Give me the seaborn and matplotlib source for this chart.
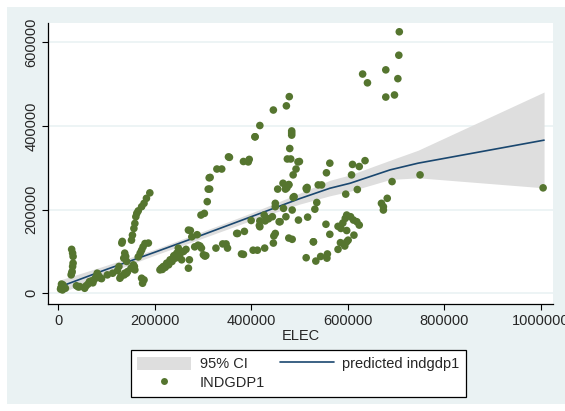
import numpy as np
import matplotlib
matplotlib.use('Agg')
import matplotlib.pyplot as plt
import seaborn as sns
from matplotlib.patches import Rectangle, Patch
from matplotlib.lines import Line2D

# scatter data (thousands)
elec_k = [
    5, 8, 10, 12, 15, 7, 9, 6,
    28, 30, 31, 31, 30, 29, 27, 28,
    38, 42, 45,
    55, 58, 62, 65, 70, 72, 75, 78, 80, 82, 85, 88, 90, 81,
    102, 113, 123, 126, 130, 137, 144, 151, 158,
    132, 133, 136, 138, 140, 142, 142, 156,
    152, 154, 157, 159, 161, 163, 166, 173, 178, 183, 190,
    166, 170, 173, 176, 180, 159, 138, 128, 173, 175, 178, 187,
    211, 216, 218, 225, 232, 239, 246, 249, 256, 222, 229, 236, 243, 252, 260, 214, 226, 240, 265,
    270, 272, 270, 274, 277, 283, 288, 294, 301, 290, 297,
    296, 303, 304, 306, 309, 311, 313, 314, 315,
    327, 329, 339, 341, 348, 351, 353, 355,
    370, 372, 380, 384, 384, 386, 394, 396, 400,
    404, 408, 413, 418, 417, 418, 428, 429, 444, 427, 436,
    408, 418, 446, 446, 447, 450, 450, 450, 455, 458,
    460, 467, 472, 472, 474, 478, 466, 471, 478, 473, 479, 480, 475, 482, 484, 484, 484,
    485, 487, 487, 489, 493, 497, 498, 500, 485, 478,
    514, 515, 516, 517, 514, 529, 529, 532, 536, 539, 546, 534, 544, 558,
    555, 556, 563, 563, 557,
    580, 585, 594, 598, 601, 580, 586, 590, 595, 598, 596, 598,
    606, 612, 619, 624, 613, 620, 608, 610, 624, 636, 631, 641,
    670, 674, 674, 682, 692, 679, 679, 697, 704, 706, 707,
    750, 1005,
]
indgdp_k = [
    10, 18, 20, 15, 12, 22, 8, 14,
    105, 96, 88, 72, 64, 52, 44, 48,
    18, 15, 16,
    12, 18, 22, 28, 30, 25, 33, 38, 42, 46, 40, 36, 35, 48,
    44, 48, 54, 64, 40, 44, 52, 60, 64,
    120, 124, 84, 96, 88, 76, 48, 68,
    127, 139, 155, 167, 183, 191, 197, 207, 215, 227, 240,
    87, 96, 103, 111, 119, 56, 48, 36, 36, 24, 32, 120,
    56, 57, 64, 72, 80, 87, 96, 108, 80, 62, 68, 76, 84, 92, 100, 60, 70, 90, 105,
    151, 80, 60, 150, 135, 111, 140, 113, 92, 115, 108,
    187, 191, 89, 90, 219, 249, 276, 249, 277,
    108, 297, 297, 118, 118, 108, 326, 325,
    143, 143, 94, 93, 315, 148, 314, 320, 174,
    103, 374, 103, 159, 162, 173, 108, 173, 183, 187, 178,
    374, 401, 438, 120, 137, 207, 215, 143, 249, 171,
    171, 203, 183, 256, 252, 259, 263, 249, 132, 448, 470, 346, 321, 321, 378, 383, 388,
    129, 229, 283, 231, 297, 314, 175, 315, 199, 260,
    85, 248, 253, 182, 251, 123, 123, 201, 217, 259, 259, 77, 88, 94,
    165, 288, 141, 311, 84,
    105, 121, 113, 123, 127, 160, 155, 168, 179, 187, 237, 150,
    183, 175, 171, 163, 139, 248, 283, 308, 303, 317, 524, 503,
    215, 207, 199, 227, 267, 534, 469, 474, 513, 569, 625,
    283, 252,
]

# fitted line and 95% band (thousands)
fit_x_k = [7, 100, 200, 300, 400, 500, 563, 605, 688, 746, 1007]
fit_y_k = [17, 57, 98, 140, 183, 226, 251, 263, 295, 311, 366]
ci_hi_k = [33, 67, 105, 148, 192, 239, 270, 283, 318, 342, 481]
ci_lo_k = [1, 47, 91, 132, 174, 213, 233, 244, 272, 276, 252]

x_ticks = [0, 200000, 400000, 600000, 800000, 1000000]
y_ticks = [0, 200000, 400000, 600000]

elec = np.array(elec_k) * 1000
indgdp = np.array(indgdp_k) * 1000
fit_x = np.array(fit_x_k) * 1000
fit_y = np.array(fit_y_k) * 1000
ci_hi = np.array(ci_hi_k) * 1000
ci_lo = np.array(ci_lo_k) * 1000

sns.set_style('white')
plt.rcParams['font.family'] = ['Liberation Sans', 'DejaVu Sans']

bg = '#EAF2F3'
green = '#55752F'
navy = '#1A476F'
band = '#DEDEDE'

fig = plt.figure(figsize=(5.65, 4.11), dpi=100, facecolor='white')
fig.patches.append(Rectangle((7 / 565, 1 - 404 / 411), 558 / 565, 397 / 411,
                             transform=fig.transFigure, facecolor=bg,
                             edgecolor='none', zorder=-10))
ax = fig.add_axes([48 / 565, 1 - 304 / 411, 505 / 565, 281 / 411])
ax.set_facecolor('white')

for yt in y_ticks:
    ax.axhline(yt, color=bg, lw=1.2, zorder=0)

ax.fill_between(fit_x, ci_lo, ci_hi, color=band, lw=0, zorder=1)
sns.lineplot(x=fit_x, y=fit_y, ax=ax, color=navy, lw=1.2, zorder=2)
sns.scatterplot(x=elec, y=indgdp, ax=ax, color=green, s=30,
                edgecolor='none', linewidth=0, zorder=3)

ax.set_xlim(-21000, 1025500)
ax.set_ylim(-25600, 646000)
ax.set_xticks(x_ticks)
ax.set_xticklabels([str(v) for v in x_ticks], fontsize=10.5)
ax.set_yticks(y_ticks)
ax.set_yticklabels([str(v) for v in y_ticks], fontsize=10.5, rotation=90, va='center')
ax.tick_params(axis='both', direction='out', length=4, width=0.8, color='black',
               left=True, bottom=True, pad=3)
ax.set_xlabel('ELEC', fontsize=10.5, labelpad=1)
ax.set_ylabel('')

for side in ['top', 'right']:
    ax.spines[side].set_visible(False)
for side in ['left', 'bottom']:
    ax.spines[side].set_color('black')
    ax.spines[side].set_linewidth(0.9)

handles = [
    Patch(facecolor=band, edgecolor='none'),
    Line2D([], [], marker='o', color=green, ls='none', markersize=5, markeredgewidth=0),
    Line2D([], [], color=navy, lw=1.2),
]
labels = ['95% CI', 'INDGDP1', 'predicted indgdp1']
leg = fig.legend(handles, labels, ncol=2, loc='upper center',
                 bbox_to_anchor=(298.5 / 565, 1 - 350 / 411), fontsize=10.5,
                 frameon=True, fancybox=False, framealpha=1, edgecolor='black',
                 handlelength=3.7, handleheight=1.0, columnspacing=1.0,
                 labelspacing=0.3, borderpad=0.45, handletextpad=0.6,
                 borderaxespad=0)
leg.get_frame().set_linewidth(0.9)

fig.savefig('out.png', dpi=100, facecolor='white')
